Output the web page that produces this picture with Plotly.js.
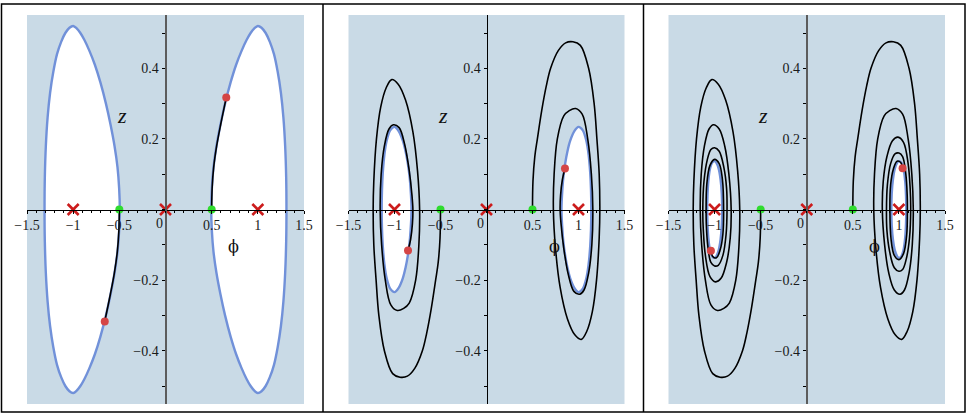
<!DOCTYPE html>
<html>
<head>
<meta charset="utf-8">
<script src="https://cdn.plot.ly/plotly-3.0.1.min.js"></script>
<style>
  html, body { margin: 0; padding: 0; background: white; }
  #chart { width: 971px; height: 415px; }
</style>
</head>
<body>
<div id="chart"></div>
<script>
// tick labels
const x_tick_vals = [-1.5, -1, -0.5, 0.5, 1, 1.5];
const x_tick_text = ["\u22121.5", "\u22121", "\u22120.5", "0.5", "1", "1.5"];
const y_tick_vals = [-0.4, -0.2, 0.2, 0.4];
const y_tick_text = ["\u22120.4", "\u22120.2", "0.2", "0.4"];

// equilibria (red crosses) and starting points (green)
const fixed_phi = [-1, 0, 1];
const fixed_z = [0, 0, 0];
const start_phi = [-0.5, 0.5];
const start_z = [0, 0];

// ---- panel 1 ----
const p1_orbit_right_phi = [0.495, 0.502, 0.52, 0.552, 0.595, 0.645, 0.705, 0.765, 0.825, 0.878, 0.922, 0.962, 1.0,
    1.04, 1.085, 1.13, 1.175, 1.215, 1.25, 1.277, 1.296, 1.307, 1.31,
    1.307, 1.296, 1.277, 1.25, 1.215, 1.175, 1.13, 1.085, 1.04,
    1.0, 0.962, 0.922, 0.878, 0.825, 0.765, 0.705, 0.645, 0.595, 0.552, 0.52, 0.502, 0.495];
const p1_orbit_right_z = [0, 0.06, 0.12, 0.18, 0.24, 0.30, 0.36, 0.41, 0.45, 0.48, 0.50, 0.513, 0.52,
    0.515, 0.50, 0.475, 0.44, 0.39, 0.33, 0.26, 0.18, 0.09, 0,
    -0.09, -0.18, -0.26, -0.33, -0.39, -0.44, -0.475, -0.50, -0.515,
    -0.52, -0.513, -0.50, -0.48, -0.45, -0.41, -0.36, -0.30, -0.24, -0.18, -0.12, -0.06, 0];
const p1_orbit_left_phi = [-0.495, -0.502, -0.52, -0.552, -0.595, -0.645, -0.705, -0.765, -0.825, -0.878, -0.922, -0.962, -1.0,
    -1.04, -1.085, -1.13, -1.175, -1.215, -1.25, -1.277, -1.296, -1.307, -1.31,
    -1.307, -1.296, -1.277, -1.25, -1.215, -1.175, -1.13, -1.085, -1.04,
    -1.0, -0.962, -0.922, -0.878, -0.825, -0.765, -0.705, -0.645, -0.595, -0.552, -0.52, -0.502, -0.495];
const p1_orbit_left_z = [0, -0.06, -0.12, -0.18, -0.24, -0.30, -0.36, -0.41, -0.45, -0.48, -0.50, -0.513, -0.52,
    -0.515, -0.50, -0.475, -0.44, -0.39, -0.33, -0.26, -0.18, -0.09, 0,
    0.09, 0.18, 0.26, 0.33, 0.39, 0.44, 0.475, 0.50, 0.515,
    0.52, 0.513, 0.50, 0.48, 0.45, 0.41, 0.36, 0.30, 0.24, 0.18, 0.12, 0.06, 0];
const p1_path_right_phi = [0.5, 0.505, 0.522, 0.554, 0.597, 0.658];
const p1_path_right_z = [0, 0.06, 0.12, 0.18, 0.24, 0.317];
const p1_path_left_phi = [-0.5, -0.505, -0.522, -0.554, -0.597, -0.658];
const p1_path_left_z = [0, -0.06, -0.12, -0.18, -0.24, -0.317];
const p1_end_phi = [-0.658, 0.658];
const p1_end_z = [-0.317, 0.317];

// ---- panel 2 ----
const p2_orbit_right_phi = [0.815, 0.822, 0.835, 0.855, 0.88, 0.91, 0.955, 1.0, 1.045, 1.085, 1.11, 1.127, 1.136, 1.139,
    1.136, 1.127, 1.11, 1.085, 1.045, 1.0, 0.955, 0.91, 0.88, 0.855, 0.835, 0.822, 0.815];
const p2_orbit_right_z = [0, 0.045, 0.09, 0.13, 0.165, 0.195, 0.222, 0.234, 0.225, 0.195, 0.155, 0.105, 0.055, 0,
    -0.055, -0.105, -0.155, -0.195, -0.225, -0.234, -0.222, -0.195, -0.165, -0.13, -0.09, -0.045, 0];
const p2_orbit_left_phi = [-0.815, -0.822, -0.835, -0.855, -0.88, -0.91, -0.955, -1.0, -1.045, -1.085, -1.11, -1.127, -1.136, -1.139,
    -1.136, -1.127, -1.11, -1.085, -1.045, -1.0, -0.955, -0.91, -0.88, -0.855, -0.835, -0.822, -0.815];
const p2_orbit_left_z = [0, -0.045, -0.09, -0.13, -0.165, -0.195, -0.222, -0.234, -0.225, -0.195, -0.155, -0.105, -0.055, 0,
    0.055, 0.105, 0.155, 0.195, 0.225, 0.234, 0.222, 0.195, 0.165, 0.13, 0.09, 0.045, 0];
const p2_path_right_phi = [0.5, 0.505, 0.525, 0.553, 0.6, 0.65, 0.697, 0.78, 0.86, 0.94, 1.02, 1.11, 1.17, 1.20, 1.225, 1.232,
    1.225, 1.196, 1.15, 1.09, 1.03, 0.96, 0.88, 0.80, 0.75, 0.727, 0.735, 0.77, 0.84, 0.90, 0.969,
    1.04, 1.10, 1.14, 1.156, 1.145, 1.11, 1.06, 1.012, 0.95, 0.89, 0.84, 0.81, 0.80, 0.805, 0.825, 0.853];
const p2_path_right_z = [0, 0.08, 0.15, 0.20, 0.28, 0.35, 0.40, 0.45, 0.472, 0.475, 0.465, 0.40, 0.30, 0.20, 0.10, 0,
    -0.08, -0.20, -0.29, -0.345, -0.368, -0.355, -0.31, -0.22, -0.11, 0, 0.10, 0.20, 0.265, 0.28, 0.286,
    0.27, 0.20, 0.10, 0, -0.10, -0.18, -0.228, -0.24, -0.232, -0.185, -0.11, -0.04, 0, 0.04, 0.085, 0.116];
const p2_path_left_phi = [-0.5, -0.505, -0.525, -0.553, -0.6, -0.65, -0.697, -0.78, -0.86, -0.94, -1.02, -1.11, -1.17, -1.20, -1.225, -1.232,
    -1.225, -1.196, -1.15, -1.09, -1.03, -0.96, -0.88, -0.80, -0.75, -0.727, -0.735, -0.77, -0.84, -0.90, -0.969,
    -1.04, -1.10, -1.14, -1.156, -1.145, -1.11, -1.06, -1.012, -0.95, -0.89, -0.84, -0.81, -0.80, -0.805, -0.825, -0.853];
const p2_path_left_z = [0, -0.08, -0.15, -0.20, -0.28, -0.35, -0.40, -0.45, -0.472, -0.475, -0.465, -0.40, -0.30, -0.20, -0.10, 0,
    0.08, 0.20, 0.29, 0.345, 0.368, 0.355, 0.31, 0.22, 0.11, 0, -0.10, -0.20, -0.265, -0.28, -0.286,
    -0.27, -0.20, -0.10, 0, 0.10, 0.18, 0.228, 0.24, 0.232, 0.185, 0.11, 0.04, 0, -0.04, -0.085, -0.116];
const p2_end_phi = [-0.853, 0.853];
const p2_end_z = [-0.116, 0.116];

// ---- panel 3 ----
const p3_orbit_right_phi = [0.918, 0.922, 0.935, 0.955, 0.98, 1.0, 1.025, 1.05, 1.068, 1.077, 1.08,
    1.077, 1.068, 1.05, 1.025, 1.0, 0.98, 0.955, 0.935, 0.922, 0.918];
const p3_orbit_right_z = [0, 0.045, 0.085, 0.115, 0.132, 0.137, 0.133, 0.115, 0.08, 0.04, 0,
    -0.04, -0.08, -0.115, -0.133, -0.137, -0.132, -0.115, -0.085, -0.045, 0];
const p3_orbit_left_phi = [-0.918, -0.922, -0.935, -0.955, -0.98, -1.0, -1.025, -1.05, -1.068, -1.077, -1.08,
    -1.077, -1.068, -1.05, -1.025, -1.0, -0.98, -0.955, -0.935, -0.922, -0.918];
const p3_orbit_left_z = [0, -0.045, -0.085, -0.115, -0.132, -0.137, -0.133, -0.115, -0.08, -0.04, 0,
    0.04, 0.08, 0.115, 0.133, 0.137, 0.132, 0.115, 0.085, 0.045, 0];
const p3_path_right_phi = [0.5, 0.505, 0.525, 0.553, 0.6, 0.65, 0.697, 0.78, 0.86, 0.94, 1.02, 1.11, 1.17, 1.20, 1.225, 1.232,
    1.225, 1.196, 1.15, 1.09, 1.03, 0.96, 0.88, 0.80, 0.75, 0.727, 0.735, 0.77, 0.84, 0.90, 0.969,
    1.04, 1.10, 1.14, 1.156, 1.145, 1.11, 1.06, 1.012, 0.95, 0.89, 0.845, 0.82, 0.83, 0.87, 0.93, 0.99,
    1.05, 1.10, 1.122, 1.128, 1.115, 1.08, 1.04, 1.0, 0.95, 0.90, 0.87, 0.865, 0.875, 0.91, 0.96, 1.0,
    1.04, 1.075, 1.09, 1.092, 1.085, 1.05, 1.0, 0.95, 0.915, 0.902, 0.91, 0.94, 0.98, 1.02, 1.04];
const p3_path_right_z = [0, 0.08, 0.15, 0.20, 0.28, 0.35, 0.40, 0.45, 0.472, 0.475, 0.465, 0.40, 0.30, 0.20, 0.10, 0,
    -0.08, -0.20, -0.29, -0.345, -0.368, -0.355, -0.31, -0.22, -0.11, 0, 0.10, 0.20, 0.265, 0.28, 0.286,
    0.27, 0.20, 0.10, 0, -0.10, -0.18, -0.228, -0.24, -0.228, -0.18, -0.10, 0, 0.08, 0.15, 0.195, 0.205,
    0.19, 0.13, 0.06, 0, -0.08, -0.14, -0.17, -0.175, -0.165, -0.12, -0.06, 0, 0.07, 0.13, 0.158, 0.16,
    0.15, 0.10, 0.04, 0, -0.07, -0.125, -0.142, -0.13, -0.085, 0, 0.07, 0.115, 0.137, 0.133, 0.117];
const p3_path_left_phi = [-0.5, -0.505, -0.525, -0.553, -0.6, -0.65, -0.697, -0.78, -0.86, -0.94, -1.02, -1.11, -1.17, -1.20, -1.225, -1.232,
    -1.225, -1.196, -1.15, -1.09, -1.03, -0.96, -0.88, -0.80, -0.75, -0.727, -0.735, -0.77, -0.84, -0.90, -0.969,
    -1.04, -1.10, -1.14, -1.156, -1.145, -1.11, -1.06, -1.012, -0.95, -0.89, -0.845, -0.82, -0.83, -0.87, -0.93, -0.99,
    -1.05, -1.10, -1.122, -1.128, -1.115, -1.08, -1.04, -1.0, -0.95, -0.90, -0.87, -0.865, -0.875, -0.91, -0.96, -1.0,
    -1.04, -1.075, -1.09, -1.092, -1.085, -1.05, -1.0, -0.95, -0.915, -0.902, -0.91, -0.94, -0.98, -1.02, -1.04];
const p3_path_left_z = [0, -0.08, -0.15, -0.20, -0.28, -0.35, -0.40, -0.45, -0.472, -0.475, -0.465, -0.40, -0.30, -0.20, -0.10, 0,
    0.08, 0.20, 0.29, 0.345, 0.368, 0.355, 0.31, 0.22, 0.11, 0, -0.10, -0.20, -0.265, -0.28, -0.286,
    -0.27, -0.20, -0.10, 0, 0.10, 0.18, 0.228, 0.24, 0.228, 0.18, 0.10, 0, -0.08, -0.15, -0.195, -0.205,
    -0.19, -0.13, -0.06, 0, 0.08, 0.14, 0.17, 0.175, 0.165, 0.12, 0.06, 0, -0.07, -0.13, -0.158, -0.16,
    -0.15, -0.10, -0.04, 0, 0.07, 0.125, 0.142, 0.13, 0.085, 0, -0.07, -0.115, -0.137, -0.133, -0.117];
const p3_end_phi = [-1.04, 1.04];
const p3_end_z = [-0.117, 0.117];

const W = 971, H = 415;
const label_font = { family: "Liberation Serif, Times New Roman, serif", size: 14, color: "#1a1a1a" };

const orbit_trace = (phi, z, xa, ya) => ({
    x: phi, y: z, xaxis: xa, yaxis: ya,
    type: "scatter", mode: "lines",
    fill: "toself", fillcolor: "white",
    line: { color: "#7191d9", width: 2.4, shape: "spline", smoothing: 1 },
    hoverinfo: "skip",
});

const path_trace = (phi, z, xa, ya) => ({
    x: phi, y: z, xaxis: xa, yaxis: ya,
    type: "scatter", mode: "lines",
    line: { color: "black", width: 1.6, shape: "spline", smoothing: 1 },
    hoverinfo: "skip",
});

const marker_trace = (phi, z, xa, ya, marker) => ({
    x: phi, y: z, xaxis: xa, yaxis: ya,
    type: "scatter", mode: "markers", marker, hoverinfo: "skip",
});

const panel_traces = (xa, ya, orbits, paths, end_phi, end_z) => [
    ...orbits.map(([phi, z]) => orbit_trace(phi, z, xa, ya)),
    ...paths.map(([phi, z]) => path_trace(phi, z, xa, ya)),
    marker_trace(fixed_phi, fixed_z, xa, ya, {
        symbol: "x-thin-open", size: 11, color: "#cc1c1c",
        line: { color: "#cc1c1c", width: 2.6 },
    }),
    marker_trace(start_phi, start_z, xa, ya, { symbol: "circle", size: 8, color: "#2fdc2f" }),
    marker_trace(end_phi, end_z, xa, ya, { symbol: "circle", size: 8, color: "#d54545" }),
];

const data = [
    ...panel_traces("x", "y",
        [[p1_orbit_left_phi, p1_orbit_left_z], [p1_orbit_right_phi, p1_orbit_right_z]],
        [[p1_path_left_phi, p1_path_left_z], [p1_path_right_phi, p1_path_right_z]],
        p1_end_phi, p1_end_z),
    ...panel_traces("x2", "y2",
        [[p2_orbit_left_phi, p2_orbit_left_z], [p2_orbit_right_phi, p2_orbit_right_z]],
        [[p2_path_left_phi, p2_path_left_z], [p2_path_right_phi, p2_path_right_z]],
        p2_end_phi, p2_end_z),
    ...panel_traces("x3", "y3",
        [[p3_orbit_left_phi, p3_orbit_left_z], [p3_orbit_right_phi, p3_orbit_right_z]],
        [[p3_path_left_phi, p3_path_left_z], [p3_path_right_phi, p3_path_right_z]],
        p3_end_phi, p3_end_z),
];

// plot areas in pixels
const y_dom = [1 - 404 / H, 1 - 15 / H];
const x_doms = [[27 / W, 304 / W], [348.5 / W, 624.5 / W], [668.5 / W, 945 / W]];
const mid = (d) => (d[0] + d[1]) / 2;

const x_axis = (dom) => ({
    domain: dom, range: [-1.5, 1.5], anchor: "free", position: mid(y_dom),
    showgrid: false, zeroline: false, showline: true, linecolor: "black", linewidth: 1,
    tickmode: "array", tickvals: x_tick_vals, ticktext: x_tick_text,
    ticks: "outside", ticklen: 3, tickcolor: "black", tickfont: label_font,
    minor: { tickmode: "linear", tick0: 0, dtick: 0.1, ticks: "outside", ticklen: 2, tickcolor: "black" },
    fixedrange: true,
});

const y_axis = (dom, color, width) => ({
    domain: y_dom, range: [-0.551, 0.551], anchor: "free", position: mid(dom),
    showgrid: false, zeroline: false, showline: true, linecolor: color, linewidth: width,
    tickmode: "array", tickvals: y_tick_vals, ticktext: y_tick_text,
    ticks: "outside", ticklen: 3, tickcolor: "black", tickfont: label_font,
    minor: { tickmode: "linear", tick0: 0, dtick: 0.1, ticks: "outside", ticklen: 3, tickcolor: "black" },
    fixedrange: true,
});

const axis_labels = (xa, ya) => [
    { x: -0.47, y: 0.267, xref: xa, yref: ya, text: "<i>z</i>", showarrow: false,
      font: { family: "Liberation Serif, serif", size: 22, color: "#111" } },
    { x: 0.74, y: -0.106, xref: xa, yref: ya, text: "\u03d5", showarrow: false,
      font: { family: "DejaVu Serif, serif", size: 16, color: "#111" } },
    { x: 0, y: 0, xref: xa, yref: ya, text: "0", showarrow: false, xshift: -6, yshift: -14,
      font: label_font },
];

const border = { color: "black", width: 1.5 };
const layout = {
    width: W, height: H,
    margin: { l: 0, r: 0, t: 0, b: 0 },
    paper_bgcolor: "white",
    plot_bgcolor: "#c9dae6",
    showlegend: false,
    xaxis: x_axis(x_doms[0]), yaxis: y_axis(x_doms[0], "#5c5c5c", 2),
    xaxis2: x_axis(x_doms[1]), yaxis2: y_axis(x_doms[1], "black", 1.2),
    xaxis3: x_axis(x_doms[2]), yaxis3: y_axis(x_doms[2], "#5c5c5c", 2),
    annotations: [...axis_labels("x", "y"), ...axis_labels("x2", "y2"), ...axis_labels("x3", "y3")],
    shapes: [
        { type: "rect", xref: "paper", yref: "paper", x0: 1.5 / W, x1: 965 / W, y0: 1 - 412 / H, y1: 1 - 4 / H, line: border },
        { type: "line", xref: "paper", yref: "paper", x0: 323 / W, x1: 323 / W, y0: 1 - 412 / H, y1: 1 - 4 / H, line: border },
        { type: "line", xref: "paper", yref: "paper", x0: 643.5 / W, x1: 643.5 / W, y0: 1 - 412 / H, y1: 1 - 4 / H, line: border },
    ],
};

Plotly.newPlot("chart", data, layout, { staticPlot: true, displayModeBar: false });
</script>
</body>
</html>
